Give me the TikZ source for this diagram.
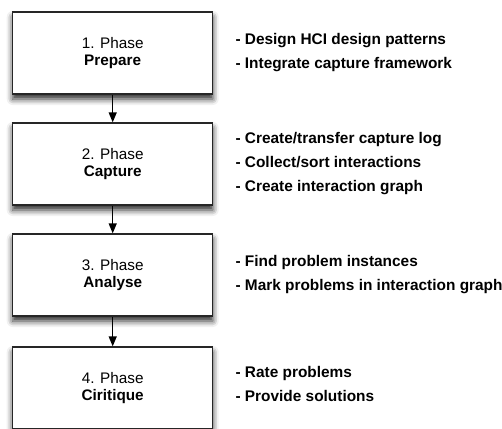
\documentclass[tikz,border=0pt]{standalone}
\usepackage{fontspec}
\setmainfont{Liberation Sans}
\usetikzlibrary{arrows.meta,positioning,shadows.blur}

\tikzstyle{phase} = [draw=black!85, line width=1.3pt, fill=white,
    minimum width=200pt, minimum height=82pt, align=center,
    font=\fontsize{15.3}{17.5}\selectfont,
    blur shadow={shadow xshift=0pt, shadow yshift=-5pt, shadow blur radius=6pt, shadow opacity=85}]
\tikzstyle{tasks} = [inner sep=0pt, align=left, font=\bfseries\fontsize{15.4}{24}\selectfont]
\tikzstyle{flow} = [-{Triangle[length=10pt,width=8pt]}, line width=1.3pt]

\begin{document}
\begin{tikzpicture}[x=1pt,y=-1pt]

\useasboundingbox (0,0) rectangle (502,428);

\node[phase] (prepare) at (112.7,53) {1. Phase\\\textbf{Prepare}};
\node[phase] (capture) at (112.7,164) {2. Phase\\\textbf{Capture}};
\node[phase] (analyse) at (112.7,275) {3. Phase\\\textbf{Analyse}};
\node[phase] (critique) at (112.7,388) {4. Phase\\\textbf{Ciritique}};

\node[tasks,right=22pt of prepare] (prepareTasks) {- Design HCI design patterns\\- Integrate capture framework};
\node[tasks,right=22pt of capture] (captureTasks) {- Create/transfer capture log\\- Collect/sort interactions\\- Create interaction graph};
\node[tasks,right=22pt of analyse] (analyseTasks) {- Find problem instances\\- Mark problems in interaction graph};
\node[tasks,right=22pt of critique,yshift=4pt] (critiqueTasks) {- Rate problems\\- Provide solutions};

\draw[flow] (prepare) -- (capture);
\draw[flow] (capture) -- (analyse);
\draw[flow] (analyse) -- (critique);

\end{tikzpicture}
\end{document}
